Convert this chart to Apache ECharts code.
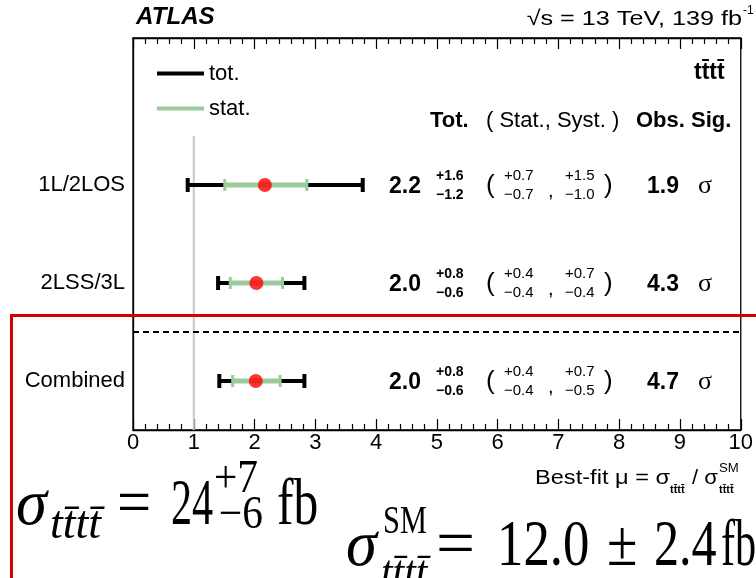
<!DOCTYPE html>
<html><head><meta charset="utf-8">
<script src="https://cdn.jsdelivr.net/npm/echarts@6/dist/echarts.min.js"></script>
<style>html,body{margin:0;padding:0;background:#fff}#c{width:756px;height:578px}</style>
</head><body><div id="c"></div>
<script>
// ---- data (top to bottom) ----
const categories = ['1L/2LOS', '2LSS/3L', 'Combined'];
const bestFit  = [2.17, 2.03, 2.02];
const totLow   = [0.90, 1.40, 1.42];
const totHigh  = [3.78, 2.82, 2.82];
const statLow  = [1.51, 1.60, 1.64];
const statHigh = [2.86, 2.46, 2.42];
const smRef = [1];
const muText     = ['2.2', '2.0', '2.0'];
const totUpText  = ['+1.6', '+0.8', '+0.8'];
const totDnText  = ['\u22121.2', '\u22120.6', '\u22120.6'];
const statUpText = ['+0.7', '+0.4', '+0.4'];
const statDnText = ['\u22120.7', '\u22120.4', '\u22120.4'];
const systUpText = ['+1.5', '+0.7', '+0.7'];
const systDnText = ['\u22121.0', '\u22120.4', '\u22120.5'];
const sigText    = ['1.9', '4.3', '4.7'];
const xMin = 0, xMax = 10, xStep = 1;

const SANS = 'Liberation Sans, Arial, Helvetica, sans-serif';
const SERIF = 'Liberation Serif, Times New Roman, serif';
const TTTT = 'tt\u0304tt\u0304';
const GREEN = '#99cc99';

const chart = echarts.init(document.getElementById('c'), null, {renderer: 'canvas'});
const yCats = [''].concat(categories);

function errBar(color, lw, capH, capW) {
  return function (params, api) {
    const yi = api.value(2);
    const y = api.coord([0, yi])[1];
    const x0 = api.coord([api.value(0), yi])[0];
    const x1 = api.coord([api.value(1), yi])[0];
    return {type: 'group', children: [
      {type: 'line', shape: {x1: x0, y1: y, x2: x1, y2: y}, style: {stroke: color, lineWidth: lw}},
      {type: 'rect', shape: {x: x0 - capW / 2, y: y - capH / 2, width: capW, height: capH}, style: {fill: color}},
      {type: 'rect', shape: {x: x1 - capW / 2, y: y - capH / 2, width: capW, height: capH}, style: {fill: color}}
    ]};
  };
}

function txt(x, y, text, size, weight, family, align) {
  return {type: 'text', x: x, y: y, style: {text: text, fontSize: size, fontWeight: weight || 'normal',
    fontFamily: family || SANS, fill: '#000', align: align || 'left', verticalAlign: 'middle'}};
}

const option = {
  animation: false,
  grid: {left: 133, right: 14, top: 38, bottom: 148, show: true, borderColor: '#000', borderWidth: 1.3, backgroundColor: 'transparent'},
  legend: {
    orient: 'vertical', left: 152, top: 57, itemWidth: 47, itemHeight: 4, itemGap: 12,
    selectedMode: false,
    textStyle: {fontSize: 22, fontFamily: SANS, color: '#000', lineHeight: 23},
    data: [{name: 'tot.', icon: 'rect', itemStyle: {color: '#000'}}, {name: 'stat.', icon: 'rect', itemStyle: {color: GREEN}}]
  },
  xAxis: [{
    type: 'value', min: xMin, max: xMax, interval: xStep, position: 'bottom',
    axisLine: {show: true, lineStyle: {color: '#000', width: 1.3}},
    axisTick: {show: true, inside: true, length: 11, lineStyle: {color: '#000', width: 1.2}},
    minorTick: {show: true, splitNumber: 5, length: 6, lineStyle: {color: '#000', width: 1.2}},
    splitLine: {show: false},
    axisLabel: {fontSize: 22, fontFamily: SANS, color: '#000', margin: 2}
  }, {
    type: 'value', min: xMin, max: xMax, interval: xStep, position: 'top',
    axisLine: {show: true, lineStyle: {color: '#000', width: 1.3}},
    axisTick: {show: true, inside: true, length: 11, lineStyle: {color: '#000', width: 1.2}},
    minorTick: {show: true, splitNumber: 5, length: 6, lineStyle: {color: '#000', width: 1.2}},
    splitLine: {show: false}, axisLabel: {show: false}
  }],
  yAxis: {
    type: 'category', data: yCats, inverse: true,
    axisLine: {show: true, lineStyle: {color: '#000', width: 1.3}},
    axisTick: {show: false}, splitLine: {show: false},
    axisLabel: {fontSize: 22, fontFamily: SANS, color: '#000', margin: 8}
  },
  series: [
    {
      name: 'ref', type: 'custom', silent: true, z: 1,
      data: smRef.map(v => [v]),
      encode: {x: 0},
      renderItem: function (params, api) {
        const cs = params.coordSys;
        const x = api.coord([api.value(0), 1])[0];
        const band = api.size([0, 1])[1];
        const top = api.coord([0, 1])[1] - band / 2;
        return {type: 'line', shape: {x1: x, y1: top, x2: x, y2: cs.y + cs.height}, style: {stroke: '#c8c8c8', lineWidth: 2}};
      }
    },
    {
      name: 'sep', type: 'custom', silent: true, z: 1,
      data: [[0, categories[categories.length - 1]]],
      encode: {x: 0, y: 1},
      renderItem: function (params, api) {
        const cs = params.coordSys;
        const band = api.size([0, 1])[1];
        const y = api.coord([0, api.value(1)])[1] - band / 2;
        return {type: 'line', shape: {x1: cs.x, y1: y, x2: cs.x + cs.width, y2: y}, style: {stroke: '#000', lineWidth: 2, lineDash: [6, 4]}};
      }
    },
    {
      name: 'tot.', type: 'custom', z: 2, itemStyle: {color: '#000'},
      data: categories.map((c, i) => [totLow[i], totHigh[i], c]),
      encode: {x: [0, 1], y: 2},
      renderItem: errBar('#000', 4, 14, 4)
    },
    {
      name: 'stat.', type: 'custom', z: 3, itemStyle: {color: GREEN},
      data: categories.map((c, i) => [statLow[i], statHigh[i], c]),
      encode: {x: [0, 1], y: 2},
      renderItem: errBar(GREEN, 5, 12, 3)
    },
    {
      name: 'fit', type: 'scatter', z: 4, symbolSize: 14, itemStyle: {color: '#ff0000'},
      data: categories.map((c, i) => [bestFit[i], c])
    },
    {
      name: 'table', type: 'custom', silent: true, z: 5,
      data: categories.map((c, i) => [0, c]),
      encode: {x: 0, y: 1},
      renderItem: function (params, api) {
        const i = params.dataIndex;
        const y = api.coord([0, api.value(1)])[1];
        return {type: 'group', children: [
          txt(389, y + 2, muText[i], 23, 'bold'),
          txt(436, y - 9, totUpText[i], 14, 'bold'),
          txt(436, y + 10, totDnText[i], 14, 'bold'),
          txt(486, y + 1, '(', 26),
          txt(504, y - 9, statUpText[i], 15),
          txt(504, y + 10, statDnText[i], 15),
          txt(548, y + 6, ',', 20),
          txt(565, y - 9, systUpText[i], 15),
          txt(565, y + 10, systDnText[i], 15),
          txt(604, y + 1, ')', 26),
          txt(647, y + 2, sigText[i], 23, 'bold'),
          txt(698, y + 1, '\u03c3', 26, 'normal', SERIF)
        ]};
      }
    }
  ],
  graphic: []
};

// ---------- annotations ----------
const g = [];
function T(x, y, text, size, opts) {
  opts = opts || {};
  g.push({type: 'text', x: x, y: y, scaleX: opts.sx || 1, z: 50,
    style: {text: text, fontSize: size, fontWeight: opts.w || 'normal', fontStyle: opts.it ? 'italic' : 'normal',
      fontFamily: opts.f || SANS, fill: '#000', align: opts.a || 'left', verticalAlign: 'middle'}});
}
// header
T(136, 18, 'ATLAS', 23, {w: 'bold', it: true, sx: 1.05});
T(742, 19, '\u221as = 13 TeV, 139 fb', 21, {a: 'right', sx: 1.2});
T(743, 11, '-1', 12);
// in-plot labels
T(694, 73, TTTT, 23, {w: 'bold'});
T(430, 121, 'Tot.', 22, {w: 'bold'});
T(486, 121, '( Stat., Syst. )', 22);
T(636, 121, 'Obs. Sig.', 22, {w: 'bold'});
// axis title
T(535, 478, 'Best-fit \u03bc = \u03c3', 20, {sx: 1.18});
T(670, 490, TTTT, 10, {w: 'bold', sx: 1.1});
T(692, 478, '/ \u03c3', 20, {sx: 1.1});
T(719, 469, 'SM', 12, {sx: 1.1});
T(719, 490, TTTT, 10, {w: 'bold', sx: 1.1});
// formula 1
const F = 66;
T(16, 507, '\u03c3', F, {f: SERIF, it: true, sx: 0.95});
T(50, 526, TTTT, 46, {f: SERIF, it: true, sx: 1.0});
T(117, 507, '=', F, {f: SERIF, sx: 0.92});
T(171, 507, '24', F, {f: SERIF, sx: 0.64});
T(214, 480, '+7', 46, {f: SERIF, sx: 0.9});
T(219, 516, '\u22126', 46, {f: SERIF, sx: 0.9});
T(277, 507, 'fb', F, {f: SERIF, sx: 0.75});
// formula 2
T(346, 548, '\u03c3', F, {f: SERIF, it: true, sx: 0.95});
T(383, 522, 'SM', 40, {f: SERIF, sx: 0.76});
T(381, 574, TTTT, 44, {f: SERIF, it: true, sx: 0.95});
T(436, 548, '=', F, {f: SERIF, sx: 1.05});
T(497, 548, '12.0', F, {f: SERIF, sx: 0.8});
T(607, 548, '\u00b1', F, {f: SERIF, sx: 0.84});
T(654, 548, '2.4', F, {f: SERIF, sx: 0.76});
T(721, 548, 'fb', F, {f: SERIF, sx: 0.64});
// red highlight frame
g.push({type: 'rect', z: 60, shape: {x: 11.5, y: 315.5, width: 800, height: 400}, style: {fill: 'none', stroke: '#d40000', lineWidth: 3}});
option.graphic = g;

chart.setOption(option);
</script>
</body></html>
